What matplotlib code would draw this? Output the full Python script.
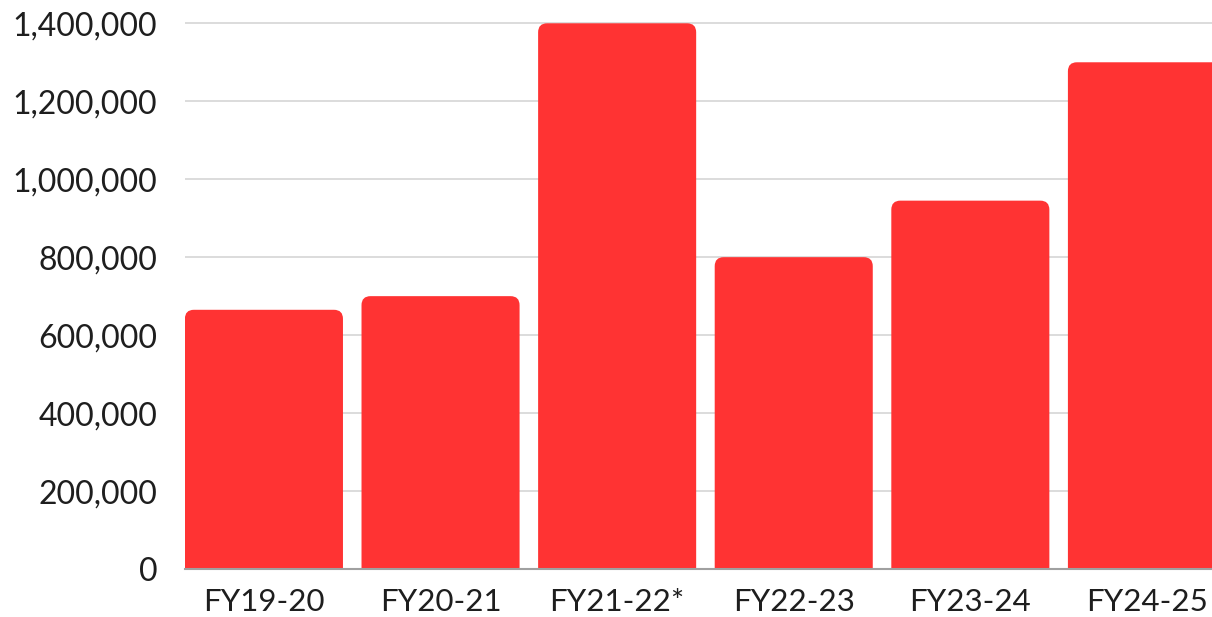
import matplotlib
matplotlib.use("Agg")
import matplotlib.pyplot as plt
from matplotlib.patches import PathPatch
from matplotlib.path import Path
from matplotlib.ticker import FuncFormatter

# data
years = ['FY19-20', 'FY20-21', 'FY21-22*', 'FY22-23', 'FY23-24', 'FY24-25']
values = [665000, 700000, 1400000, 800000, 945000, 1300000]
yticks = [0, 200000, 400000, 600000, 800000, 1000000, 1200000, 1400000]

W, H = 1212, 617
bar_red = '#FF3333'

plt.rcParams['font.family'] = ['Lato', 'DejaVu Sans']

fig = plt.figure(figsize=(W / 100, H / 100), dpi=100, facecolor='white')

# axes placed in pixels: left edge at first bar, base at y=569, clipped at right
x0, base = 185, 569
ax = fig.add_axes([x0 / W, (H - base) / H, (W - x0) / W, base / H])

px_per_val = 545.7 / 1.4e6
pitch = 176.6
ax.set_xlim(-0.447, (W - x0) / pitch - 0.447)
ax.set_ylim(0, base / px_per_val)


def top_rounded_bar(xc, w, h, rx, ry):
    # rectangle from 0 to h with the two top corners rounded
    l, r = xc - w / 2, xc + w / 2
    verts = [(l, 0), (l, h - ry), (l, h), (l + rx, h),
             (r - rx, h), (r, h), (r, h - ry), (r, 0), (l, 0)]
    codes = [Path.MOVETO, Path.LINETO, Path.CURVE3, Path.CURVE3,
             Path.LINETO, Path.CURVE3, Path.CURVE3, Path.LINETO, Path.CLOSEPOLY]
    return Path(verts, codes)


width = 0.895
rx = 9 / pitch                  # corner radius, x units
ry = 9 / px_per_val             # corner radius, y units
for i, v in enumerate(values):
    ax.add_patch(PathPatch(top_rounded_bar(i, width, v, rx, ry),
                           fc=bar_red, ec='none', zorder=2))

ax.set_yticks(yticks)
ax.yaxis.set_major_formatter(FuncFormatter(lambda v, p: '{:,.0f}'.format(v)))
ax.grid(axis='y', color='#D9D9D9', lw=1.3, zorder=0)
ax.axhline(0, color='#A0A0A0', lw=1.5, zorder=3, clip_on=False)

ax.set_xticks(range(len(years)))
ax.set_xticklabels(years)

ax.tick_params(axis='y', length=0, pad=20, labelsize=23, labelcolor='#1E1E1E')
ax.tick_params(axis='x', length=0, pad=14, labelsize=22.5, labelcolor='#1E1E1E')
for s in ax.spines.values():
    s.set_visible(False)
ax.set_axisbelow(True)

fig.savefig('out.png', dpi=100, facecolor='white')
